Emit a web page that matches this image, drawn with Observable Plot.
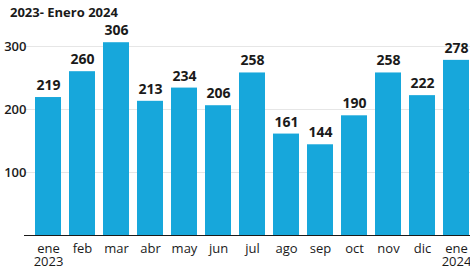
<!DOCTYPE html>
<html><head><meta charset="utf-8">
<script src="https://cdn.jsdelivr.net/npm/d3@7"></script>
<script src="https://cdn.jsdelivr.net/npm/@observablehq/plot@0.6"></script>
<style>
html,body{margin:0;padding:0;overflow:hidden;background:#fff;width:470px;height:270px}
#title{font-family:"Open Sans",sans-serif;font-weight:700;font-size:13px;color:#1a1a1a;height:24px;line-height:24px;padding-left:10px;white-space:nowrap}
#chart svg{max-width:none !important}
</style></head><body>
<div id="title">2023- Enero 2024</div>
<div id="chart"></div>
<script>
const months = ["ene 2023","feb","mar","abr","may","jun","jul","ago","sep","oct","nov","dic","ene 2024"];
const tickLabels = ["ene\n2023","feb","mar","abr","may","jun","jul","ago","sep","oct","nov","dic","ene\n2024"];
const values = [219,260,306,213,234,206,258,161,144,190,258,222,278];
const yTicks = [100,200,300];
const data = months.map((m,i)=>({month:m, value:values[i], label:tickLabels[i]}));
const plot = Plot.plot({
  width: 490, height: 246,
  marginLeft: 24, marginRight: 10, marginTop: 22, marginBottom: 35,
  style:{fontFamily:"'Open Sans',sans-serif", background:"transparent", overflow:"visible", maxWidth:"none"},
  x:{domain:months, padding:0.24, label:null},
  y:{domain:[0,300], label:null},
  marks:[
    Plot.gridY(yTicks,{stroke:"#e6e6e6", strokeOpacity:1}),
    Plot.barY(data,{x:"month", y:"value", fill:"#17a7db"}),
    Plot.text(data,{x:"month", y:"value", text:d=>String(d.value), dy:-12, fontSize:14, fontWeight:700, fill:"#1a1a1a"}),
    Plot.axisY(yTicks,{tickSize:0, tickPadding:-2, fontSize:13, fontWeight:600, fill:"#1a1a1a", tickFormat:d=>String(d)}),
    Plot.axisX({tickSize:0, tickPadding:8, fontSize:13, fontWeight:500, fill:"#1a1a1a", lineHeight:1.0, tickFormat:(d)=>tickLabels[months.indexOf(d)]}),
    Plot.ruleY([0],{stroke:"#1a1a1a", strokeWidth:1.2})
  ]
});
document.getElementById("chart").appendChild(plot);
</script>
</body></html>
